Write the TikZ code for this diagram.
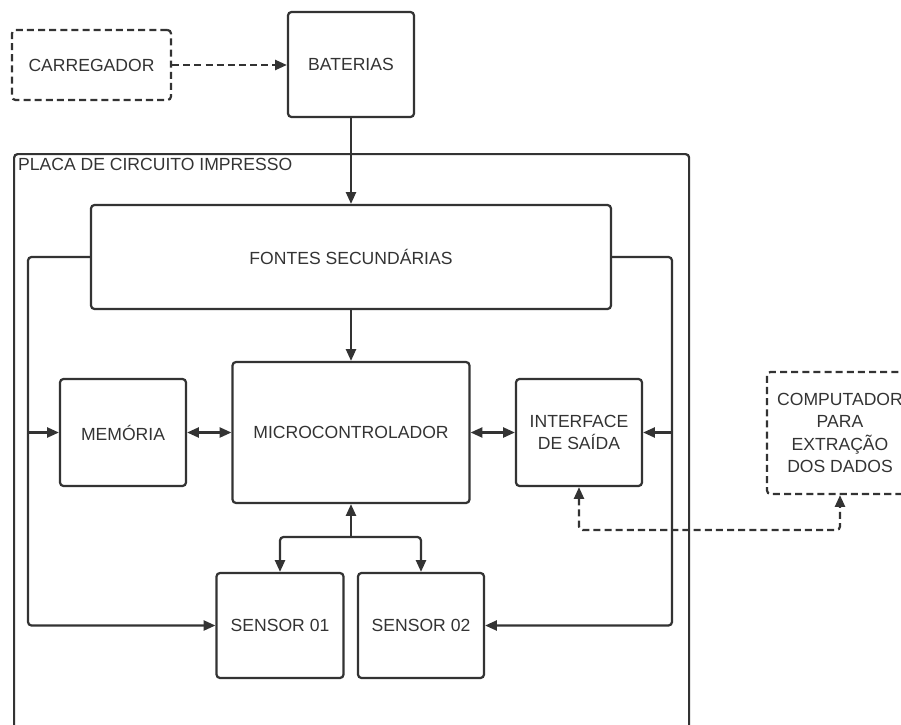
\documentclass[tikz,border=0pt]{standalone}
\usepackage{fontspec}
\setmainfont{Liberation Sans}
\usepackage{xcolor}
\usetikzlibrary{arrows.meta}
\definecolor{ink}{HTML}{333333}

\begin{document}
\begin{tikzpicture}[>={Triangle[length=10pt, width=8.5pt]}, x=0.03cm, y=-0.03cm,
    line width=1.9pt, color=ink, font=\fontsize{15}{19}\selectfont,
    box/.style={draw, rounded corners=3pt, inner sep=0pt, align=center},
    boxsize/.style 2 args={minimum width=#1*0.03cm, minimum height=#2*0.03cm},
    extbox/.style={box, dash pattern=on 6pt off 3.5pt},
    wire/.style={->, rounded corners=3pt},
    dwire/.style={<->, rounded corners=3pt, dash pattern=on 6pt off 3.5pt}]
  \useasboundingbox (0,0) rectangle (901,724);
  % outer blocks
  \node[extbox, boxsize={159}{70}] (charger) at (91.5,65) {CARREGADOR};
  \node[box, boxsize={126}{105}] (batt) at (351,64.5) {BATERIAS};
  \node[box, anchor=north west, boxsize={675}{607}] (pcb) at (13,153) {};
  \node[anchor=base west, inner sep=0pt] (pcbtitle) at (17,170) {PLACA DE CIRCUITO IMPRESSO};
  \node[extbox, boxsize={146}{122}] (pc) at (840,433) {COMPUTADOR\\PARA\\EXTRAÇÃO\\DOS DADOS};
  % blocks on the board
  \node[box, boxsize={520}{104}] (fontes) at (351,257) {FONTES SECUNDÁRIAS};
  \node[box, boxsize={237}{141}] (micro) at (351,432.5) {MICROCONTROLADOR};
  \node[box, boxsize={126}{107}] (mem) at (123,432.5) {MEMÓRIA};
  \node[box, boxsize={126}{107}] (iface) at (579,432.5) {INTERFACE\\DE SAÍDA};
  \node[box, boxsize={127}{105}] (s1) at (280,625.5) {SENSOR 01};
  \node[box, boxsize={126}{105}] (s2) at (421,625.5) {SENSOR 02};
  \coordinate (lbus) at (28,0);
  \coordinate (rbus) at (672,0);
  \coordinate (split) at (351,537);
  \coordinate (dbus) at (0,530);
  % power
  \draw[->, dash pattern=on 6pt off 3.5pt] (charger.east) -- (batt.west |- charger.east);
  \draw[->] (batt.south) -- (batt.south |- fontes.north);
  \draw[->] (fontes.south -| micro.north) -- (micro.north);
  \draw[wire] (fontes.west) -| (lbus |- s1.west) -- (s1.west);
  \draw[->] (lbus |- mem.west) -- (mem.west);
  \draw[wire] (fontes.east) -| (rbus |- s2.east) -- (s2.east);
  \draw[->] (rbus |- iface.east) -- (iface.east);
  % data
  \draw[<->] (mem.east) -- (micro.west |- mem.east);
  \draw[<->] (micro.east |- iface.west) -- (iface.west);
  \draw[->] (split) -- (micro.south);
  \draw[wire] (split) -| (s1.north);
  \draw[wire] (split) -| (s2.north);
  \draw[dwire] (iface.south) |- (pc.south |- dbus) -- (pc.south);
\end{tikzpicture}
\end{document}
